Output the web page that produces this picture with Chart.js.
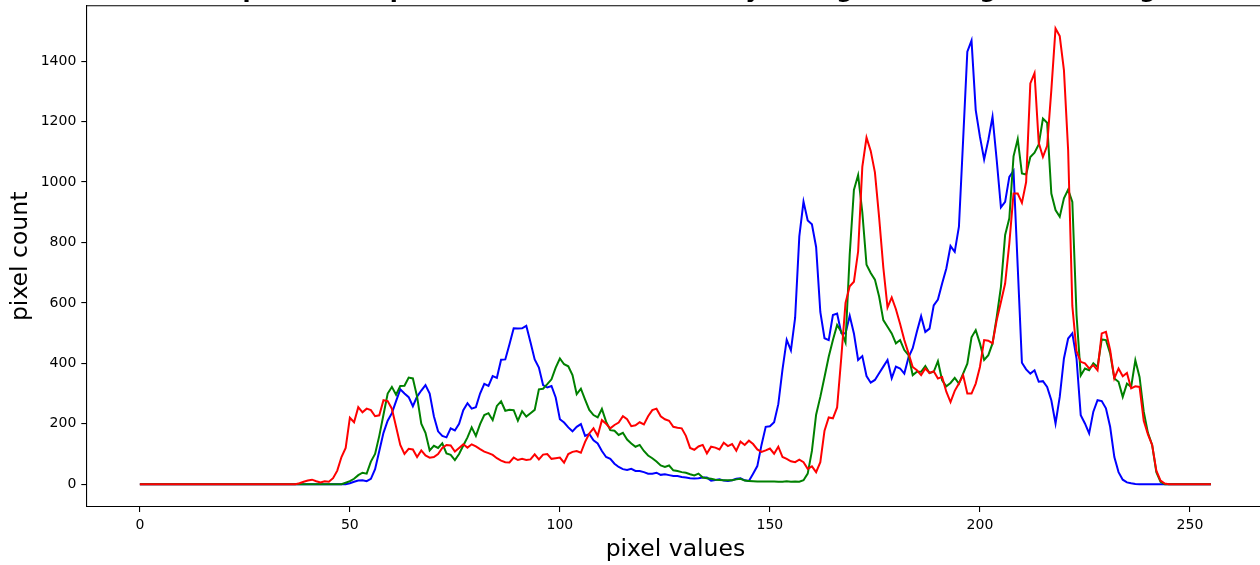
<!DOCTYPE html>
<html>
<head>
<meta charset="utf-8">
<script src="https://cdn.jsdelivr.net/npm/chart.js@4"></script>
<style>
    html, body { margin: 0; padding: 0; background: #fff; overflow: hidden; }
    #wrap { position: relative; width: 1280px; height: 565px; }
</style>
</head>
<body>
<div id="wrap"><canvas id="histCanvas"></canvas></div>
<script>
// histogram bins 0..255
const bins = Array.from({ length: 256 }, (_, i) => i);

const blueCounts = [
    0, 0, 0, 0, 0, 0, 0, 0, 0, 0,
    0, 0, 0, 0, 0, 0, 0, 0, 0, 0,
    0, 0, 0, 0, 0, 0, 0, 0, 0, 0,
    0, 0, 0, 0, 0, 0, 0, 0, 0, 0,
    0, 0, 0, 0, 0, 0, 0, 0, 0, 0,
    3, 8, 12, 13, 10, 18, 50, 110, 170, 210,
    235, 275, 314, 300, 288, 258, 290, 310, 328, 300,
    225, 175, 160, 155, 185, 178, 200, 245, 268, 250,
    255, 300, 332, 325, 358, 352, 412, 413, 463, 516,
    515, 516, 524, 470, 413, 386, 328, 320, 325, 287,
    215, 204, 188, 175, 190, 199, 160, 166, 145, 135,
    110, 90, 84, 68, 57, 50, 47, 51, 44, 44,
    40, 35, 35, 38, 31, 33, 30, 27, 27, 24,
    22, 20, 19, 20, 22, 22, 12, 14, 16, 12,
    11, 13, 18, 20, 13, 11, 35, 60, 130, 190,
    192, 205, 265, 380, 478, 443, 550, 820, 935, 873,
    860, 785, 570, 483, 477, 560, 565, 500, 499, 557,
    499, 411, 424, 358, 336, 345, 367, 389, 411, 351,
    389, 383, 366, 420, 450, 505, 556, 504, 515, 592,
    611, 664, 714, 788, 769, 852, 1139, 1431, 1468, 1238,
    1150, 1075, 1139, 1216, 1072, 916, 934, 1017, 1037, 719,
    402, 380, 366, 377, 339, 341, 322, 278, 201, 289,
    416, 482, 499, 416, 228, 201, 168, 240, 278, 275,
    251, 190, 90, 40, 15, 6, 3, 1, 0, 0,
    0, 0, 0, 0, 0, 0, 0, 0, 0, 0,
    0, 0, 0, 0, 0, 0,
];

const greenCounts = [
    0, 0, 0, 0, 0, 0, 0, 0, 0, 0,
    0, 0, 0, 0, 0, 0, 0, 0, 0, 0,
    0, 0, 0, 0, 0, 0, 0, 0, 0, 0,
    0, 0, 0, 0, 0, 0, 0, 0, 0, 0,
    0, 0, 0, 0, 0, 0, 0, 0, 0, 5,
    10, 18, 30, 38, 35, 75, 100, 160, 230, 300,
    322, 296, 325, 326, 353, 350, 290, 200, 170, 112,
    127, 120, 135, 102, 97, 80, 100, 128, 155, 188,
    160, 199, 229, 235, 212, 259, 274, 243, 246, 245,
    210, 242, 224, 235, 246, 314, 316, 331, 347, 386,
    416, 397, 390, 361, 298, 316, 280, 246, 229, 221,
    249, 207, 179, 177, 163, 170, 148, 135, 124, 130,
    110, 95, 86, 75, 62, 57, 62, 46, 44, 40,
    38, 33, 29, 35, 22, 20, 18, 15, 14, 13,
    13, 13, 16, 18, 12, 11, 10, 9, 9, 9,
    9, 9, 8, 8, 10, 8, 9, 8, 13, 35,
    110, 230, 289, 355, 422, 477, 527, 505, 469, 760,
    974, 1023, 900, 726, 699, 677, 621, 543, 521, 499,
    466, 477, 444, 427, 361, 372, 372, 391, 368, 372,
    407, 344, 324, 335, 352, 333, 366, 399, 486, 510,
    466, 411, 427, 466, 554, 653, 825, 880, 1085, 1142,
    1028, 1025, 1083, 1097, 1124, 1210, 1196, 962, 907, 885,
    946, 975, 934, 560, 360, 383, 377, 400, 388, 479,
    477, 433, 350, 339, 289, 333, 322, 410, 355, 240,
    170, 130, 40, 8, 0, 0, 0, 0, 0, 0,
    0, 0, 0, 0, 0, 0,
];

const redCounts = [
    0, 0, 0, 0, 0, 0, 0, 0, 0, 0,
    0, 0, 0, 0, 0, 0, 0, 0, 0, 0,
    0, 0, 0, 0, 0, 0, 0, 0, 0, 0,
    0, 0, 0, 0, 0, 0, 0, 0, 3, 8,
    12, 15, 10, 6, 10, 8, 20, 45, 90, 120,
    220, 205, 255, 238, 250, 245, 225, 228, 278, 275,
    250, 190, 130, 100, 117, 115, 90, 112, 95, 88,
    90, 100, 120, 130, 128, 108, 120, 132, 121, 132,
    125, 116, 108, 103, 97, 86, 78, 73, 72, 88,
    80, 84, 80, 82, 99, 82, 98, 100, 84, 86,
    88, 71, 100, 107, 110, 104, 140, 168, 185, 160,
    212, 200, 185, 196, 204, 225, 215, 192, 195, 205,
    198, 225, 245, 250, 225, 215, 210, 190, 187, 185,
    160, 120, 114, 125, 130, 102, 124, 121, 115, 137,
    126, 133, 111, 141, 130, 144, 133, 115, 107, 112,
    118, 101, 124, 90, 84, 76, 73, 81, 73, 51,
    59, 40, 73, 177, 221, 218, 254, 420, 600, 655,
    670, 770, 1050, 1147, 1103, 1032, 883, 717, 585, 618,
    579, 530, 477, 433, 388, 377, 361, 383, 368, 374,
    350, 355, 306, 272, 309, 333, 361, 300, 300, 333,
    388, 477, 475, 466, 543, 603, 664, 797, 962, 962,
    931, 1000, 1326, 1360, 1130, 1083, 1120, 1304, 1508, 1483,
    1370, 1106, 590, 440, 405, 400, 383, 394, 377, 499,
    504, 444, 350, 383, 357, 368, 317, 324, 322, 210,
    165, 130, 45, 12, 2, 0, 0, 0, 0, 0,
    0, 0, 0, 0, 0, 0,
];

const xTicks = [0, 50, 100, 150, 200, 250];
const yTicks = [0, 200, 400, 600, 800, 1000, 1200, 1400];

const titleText = 'Line plot of the pixel intensities, created by taking the histogram of image';

(function () {
    const canvas = document.getElementById('histCanvas');
    const font = 'DejaVu Sans';

    // frame on top + clipped title above the axes (as in the matplotlib figure)
    const framePlugin = {
        id: 'frame',
        afterDraw(chart) {
            const { ctx, chartArea: a } = chart;
            ctx.save();
            ctx.strokeStyle = '#000';
            ctx.lineWidth = 1.1;
            ctx.beginPath();
            ctx.moveTo(a.left, a.top);
            ctx.lineTo(a.right, a.top);
            ctx.lineTo(a.right, a.bottom);
            ctx.stroke();
            ctx.fillStyle = '#000';
            ctx.font = 'bold 23.5px "' + font + '"';
            ctx.textAlign = 'center';
            ctx.textBaseline = 'alphabetic';
            ctx.fillText(titleText, (a.left + a.right) / 2, a.top - 8.3);
            ctx.restore();
        },
    };

    const line = (label, data, color) => ({
        label,
        data,
        borderColor: color,
        borderWidth: 2,
        pointRadius: 0,
        tension: 0,
        fill: false,
    });

    // no extra room for end tick labels: keep the plot box where matplotlib put it
    const noPad = (s) => {
        s.paddingTop = 0;
        s.paddingBottom = 0;
        s.paddingLeft = 0;
        s.paddingRight = 0;
    };

    new Chart(canvas, {
        type: 'line',
        data: {
            labels: bins,
            // red first so it ends up on top, like the original b, g, r draw order
            datasets: [
                line('red', redCounts, '#ff0000'),
                line('green', greenCounts, '#008000'),
                line('blue', blueCounts, '#0000ff'),
            ],
        },
        options: {
            responsive: true,
            maintainAspectRatio: false,
            animation: false,
            layout: { padding: { left: 0, right: 15.5, top: 5.7, bottom: 0 } },
            plugins: {
                legend: { display: false },
                tooltip: { enabled: false },
                title: { display: false },
            },
            scales: {
                x: {
                    type: 'linear',
                    min: -12.75,
                    max: 267.75,
                    afterFit: (s) => { s.height = 58; noPad(s); },
                    afterBuildTicks: (s) => { s.ticks = xTicks.map((v) => ({ value: v })); },
                    grid: { drawOnChartArea: false, drawTicks: true, tickLength: 5, color: '#000', lineWidth: 1.1 },
                    border: { display: true, color: '#000', width: 1.1 },
                    ticks: {
                        color: '#000',
                        padding: 5,
                        maxRotation: 0,
                        font: { family: font, size: 14 },
                        callback: (v) => String(v),
                    },
                    title: {
                        display: true,
                        text: 'pixel values',
                        color: '#000',
                        font: { family: font, size: 23.5, lineHeight: 1.2 },
                        padding: { top: 0, bottom: 1.5 },
                    },
                },
                y: {
                    type: 'linear',
                    min: -75.4,
                    max: 1583.4,
                    afterFit: (s) => { s.width = 86.3; noPad(s); },
                    afterBuildTicks: (s) => { s.ticks = yTicks.map((v) => ({ value: v })); },
                    grid: { drawOnChartArea: false, drawTicks: true, tickLength: 5, color: '#000', lineWidth: 1.1 },
                    border: { display: true, color: '#000', width: 1.1 },
                    ticks: {
                        color: '#000',
                        padding: 5,
                        font: { family: font, size: 14 },
                        callback: (v) => String(v),
                    },
                    title: {
                        display: true,
                        text: 'pixel count',
                        color: '#000',
                        font: { family: font, size: 23.5, lineHeight: 1.2 },
                        padding: { top: 7, bottom: 0 },
                    },
                },
            },
        },
        plugins: [framePlugin],
    });
})();
</script>
</body>
</html>
